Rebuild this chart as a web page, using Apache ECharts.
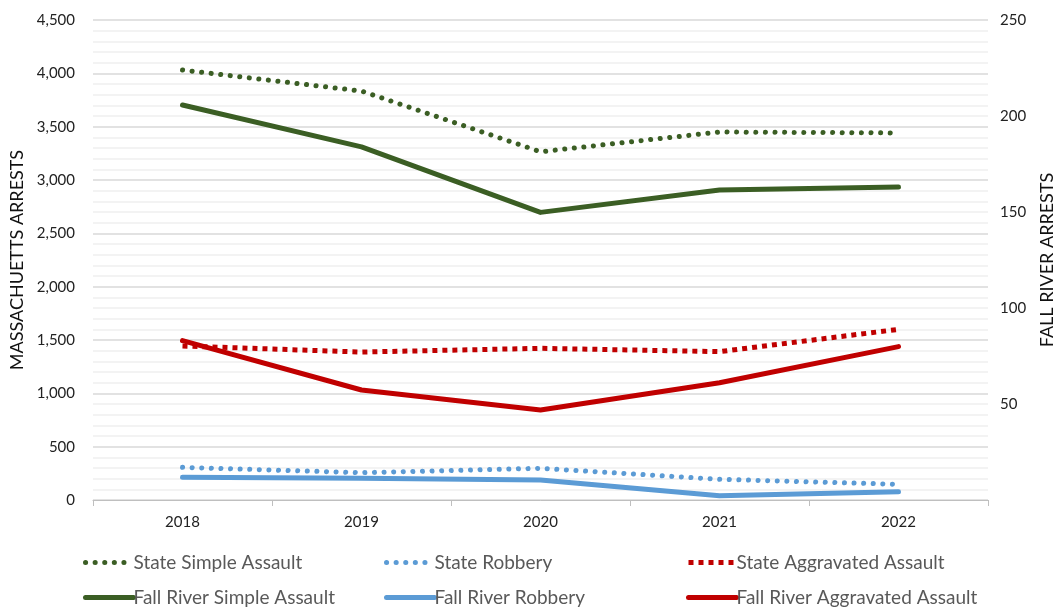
<!DOCTYPE html>
<html>
<head>
<meta charset="utf-8">
<script src="https://cdn.jsdelivr.net/npm/echarts@6/dist/echarts.min.js"></script>
<style>html,body{margin:0;padding:0;background:#fff}#c{width:1055px;height:607px}</style>
</head>
<body>
<div id="c"></div>
<script>
const years = ['2018','2019','2020','2021','2022'];
const stateSimple = [4031, 3834, 3265, 3450, 3441];
const stateRobbery = [306, 256, 297, 194, 147];
const stateAggravated = [1444, 1387, 1422, 1391, 1600];
const frSimple = [205.7, 183.9, 149.8, 161.5, 163];
const frRobbery = [11.8, 11.3, 10.4, 2.2, 4.3];
const frAggravated = [83, 57.3, 46.9, 61.1, 79.9];
const names = ['State Simple Assault','State Robbery','State Aggravated Assault',
  'Fall River Simple Assault','Fall River Robbery','Fall River Aggravated Assault'];

const GREEN = '#3b5e24', BLUE = '#5b9bd5', RED = '#c00000';
const FONT = 'Lato, "Open Sans", sans-serif';

function dotted(color){ return {color, width:5, type:[0.1, 9.5], cap:'round'}; }
function square(color){ return {color, width:5, type:[5, 5], cap:'butt'}; }
function solid(color){ return {color, width:5, cap:'round', join:'round'}; }

const seriesDefs = [
  {name:names[0], data:stateSimple, axis:0, ls:dotted(GREEN)},
  {name:names[1], data:stateRobbery, axis:0, ls:dotted(BLUE)},
  {name:names[2], data:stateAggravated, axis:0, ls:square(RED)},
  {name:names[3], data:frSimple, axis:1, ls:solid(GREEN)},
  {name:names[4], data:frRobbery, axis:1, ls:solid(BLUE)},
  {name:names[5], data:frAggravated, axis:1, ls:solid(RED)}
];

const legendPos = [[83,553],[384,553],[686,553],[83,588],[384,588],[686,588]];
const legends = names.map((n,i)=>({
  data:[n], left:legendPos[i][0], top:legendPos[i][1], padding:0,
  itemWidth:48, itemHeight:20, itemGap:2,
  itemStyle:{opacity:0},
  lineStyle:Object.assign({}, seriesDefs[i].ls),
  textStyle:{fontFamily:FONT, fontSize:19, color:'#595959', padding:[0,0,0,-5]}
}));

const chart = echarts.init(document.getElementById('c'));
chart.setOption({
  animation:false,
  backgroundColor:'#fff',
  legend: legends,
  grid:{left:93, right:67, top:20, bottom:107, containLabel:false, outerBoundsMode:'none'},
  xAxis:{
    type:'category', data:years, boundaryGap:true,
    axisLine:{lineStyle:{color:'#bfbfbf', width:1}},
    axisTick:{show:true, length:6, lineStyle:{color:'#bfbfbf'}},
    axisLabel:{fontFamily:FONT, fontSize:15, color:'#222', margin:15}
  },
  yAxis:[
    {type:'value', min:0, max:4500, interval:500, position:'left',
     name:'MASSACHUETTS ARRESTS', nameLocation:'middle', nameGap:65, nameRotate:90,
     nameTextStyle:{fontFamily:FONT, fontSize:18, color:'#111'},
     axisLine:{show:false}, axisTick:{show:false},
     axisLabel:{fontFamily:FONT, fontSize:15, color:'#222', margin:18,
       formatter:v=>v.toLocaleString('en-US')},
     splitLine:{lineStyle:{color:'#d9d9d9', width:1.5}},
     minorTick:{show:false, splitNumber:5},
     minorSplitLine:{show:true, lineStyle:{color:'#efefef', width:1.5}}
    },
    {type:'value', min:0, max:250, interval:50, position:'right',
     name:'FALL RIVER ARRESTS', nameLocation:'middle', nameGap:50, nameRotate:90,
     nameTextStyle:{fontFamily:FONT, fontSize:18, color:'#111'},
     axisLine:{show:false}, axisTick:{show:false},
     axisLabel:{fontFamily:FONT, fontSize:15, color:'#222', margin:12, showMinLabel:false},
     splitLine:{show:false}
    }
  ],
  series: seriesDefs.map(s=>({
    name:s.name, type:'line', data:s.data, yAxisIndex:s.axis,
    showSymbol:false, symbol:'none', lineStyle:s.ls, itemStyle:{color:s.ls.color},
    z: s.axis===1?3:2
  }))
});
</script>
</body>
</html>
